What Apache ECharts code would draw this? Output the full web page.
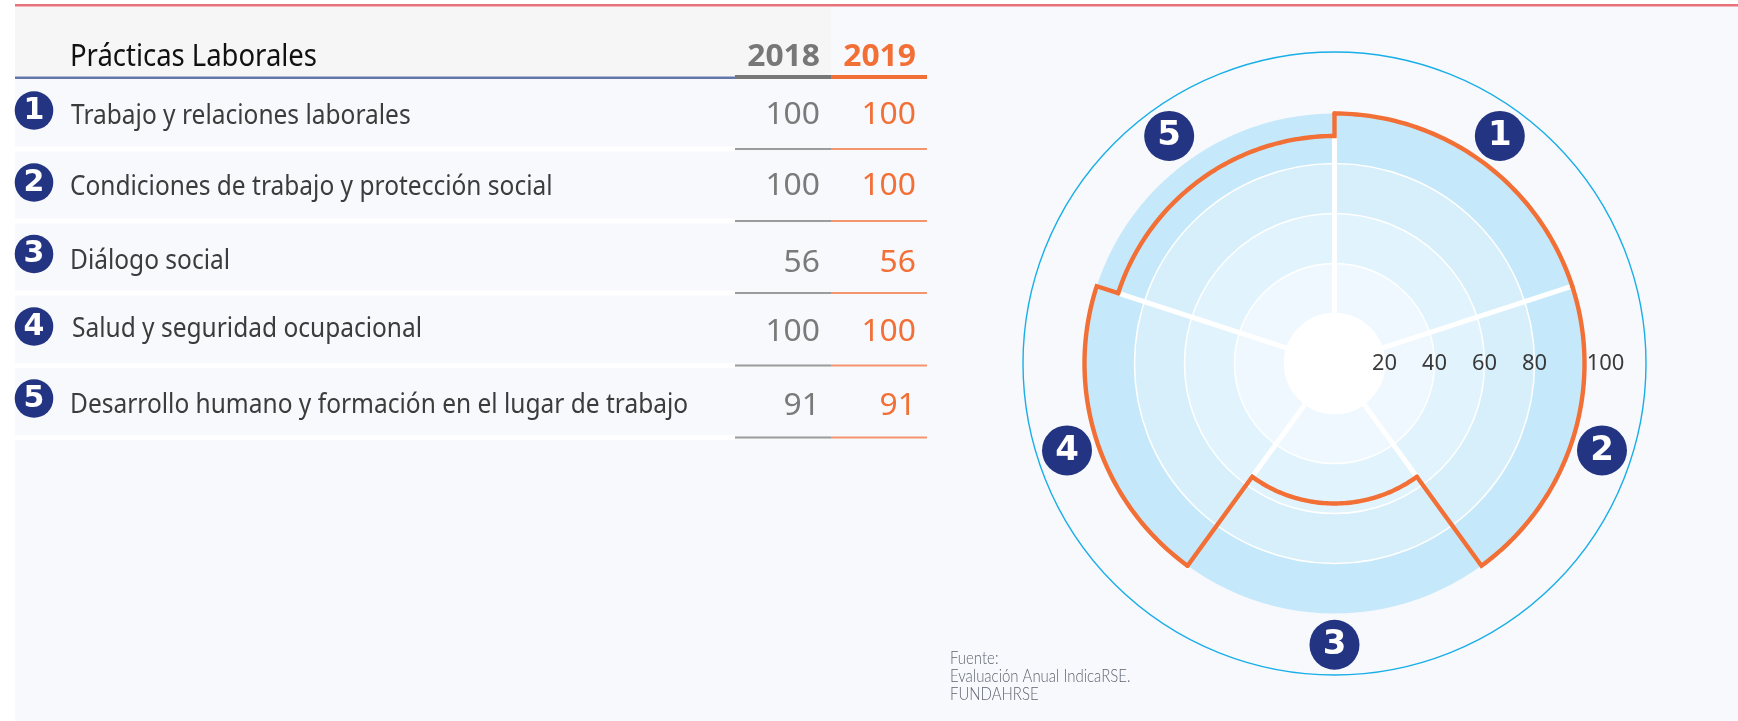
<!DOCTYPE html>
<html><head><meta charset="utf-8">
<style>html,body{margin:0;padding:0;background:#fff}#c{width:1738px;height:721px}</style>
<script src="https://cdn.jsdelivr.net/npm/echarts@6/dist/echarts.min.js"></script>
</head><body><div id="c"></div>
<script>
const tableTitle = 'Prácticas Laborales';
const years = ['2018', '2019'];
const categories = ['Trabajo y relaciones laborales','Condiciones de trabajo y protección social','Diálogo social','Salud y seguridad ocupacional','Desarrollo humano y formación en el lugar de trabajo'];
const badges = ['1','2','3','4','5'];
const values2018 = [100,100,56,100,91];
const values2019 = [100,100,56,100,91];
const ringValues = [20,40,60,80];
const sourceLines = ['Fuente:','Evaluación Anual IndicaRSE.','FUNDAHRSE'];

const FONT = '"Noto Sans"';
const rowBadgeY = [110.5,182.5,254,326.5,398.5];
const rowTextY = [116,187,261,329,405];
const rowTextX = [71,70,70,72,70];
const rowNumY = [115,186,263,332,406];
const rowRuleY = [149,221,293,365.5,437.5];
const ORANGE = '#f26f36', NAVY = '#233582';

const g = [];
const rect = (x,y,w,h,fill,z)=>g.push({type:'rect',z:z||-10,silent:true,shape:{x,y,width:w,height:h},style:{fill}});
const text = (x,y,t,o)=>g.push({type:'text',x,y,scaleX:o.sx||1,z:-5,silent:true,style:{x:0,y:0,text:t,fill:o.fill,font:(o.weight||'normal')+' '+o.size+'px '+(o.font||FONT),textAlign:o.align||'left',textVerticalAlign:'middle'}});
rect(15,5,1723,716,'#f8f9fd');
rect(15,7,816,69,'#f6f6f6');
rect(15,4,1723,2.5,'#e8737b',-9);
rect(15,76.5,720,2.5,'#6477ab',-9);
rect(735,75,96,4,'#777777',-9);
rect(831,75,96,4,ORANGE,-9);
text(70,57,tableTitle,{fill:'#111111',size:30,sx:0.915});
text(820,57,years[0],{fill:'#777777',size:30,weight:'bold',align:'right',sx:1.06});
text(916,57,years[1],{fill:ORANGE,size:30,weight:'bold',align:'right',sx:1.06});
categories.forEach((c,i)=>{
  rect(15,rowRuleY[i]-2.5,720,5,'#ffffff',-9);
  rect(735,rowRuleY[i]-1,96,2,'#9c9c9c',-8);
  rect(831,rowRuleY[i]-1,96,2,'#f5956f',-8);
  g.push({type:'circle',z:-6,silent:true,shape:{cx:34,cy:rowBadgeY[i],r:19.3},style:{fill:NAVY}});
  text(34,rowBadgeY[i]+0.5,badges[i],{fill:'#fff',size:30,weight:'bold',font:'"DejaVu Sans"',align:'center'});
  text(rowTextX[i],rowTextY[i],c,{fill:'#3c3c3c',size:28,sx:0.875});
  text(820,rowNumY[i],String(values2018[i]),{fill:'#7a7a7a',size:30,align:'right',sx:1.06});
  text(916,rowNumY[i],String(values2019[i]),{fill:ORANGE,size:30,align:'right',sx:1.06});
});
sourceLines.forEach((s,i)=>text(950,659+18*i,s,{fill:'#5f6470',size:17,font:'Lato',weight:'300',sx:0.88}));
g.push({type:'circle',z:-4,silent:true,shape:{cx:1334.5,cy:363.5,r:311.5},style:{fill:'none',stroke:'#18aee8',lineWidth:1.4}});

// angle axis runs clockwise from east so that the radius labels sit on the east side
const TOP = 270, STEP = 72;
const startAngle = i => TOP + i*STEP;
const sectorData = values2019.map((v,i)=>[v,startAngle(i)]);
const ringData = ringValues.map(v=>[v,0]);

function rings(params, api){
  const c = api.coord([0,0]), p = api.coord([api.value(0),0]);
  return {type:'circle',shape:{cx:c[0],cy:c[1],r:Math.abs(p[0]-c[0])},style:{fill:'none',stroke:'#ffffff',lineWidth:1.5}};
}
function spokes(params, api){
  const i = params.dataIndex, n = values2019.length;
  const reach = Math.min(values2019[i], values2019[(i-1+n)%n]);
  const a = startAngle(i);
  return {type:'line',shape:{x1:api.coord([20,a])[0],y1:api.coord([20,a])[1],x2:api.coord([reach,a])[0],y2:api.coord([reach,a])[1]},style:{stroke:'#fff',lineWidth:5}};
}
function outline(params, api){
  const i = params.dataIndex, n = values2019.length;
  const v = api.value(0), a = startAngle(i), next = values2019[(i+1)%n];
  const pts = [];
  for(let d=0;d<=STEP;d++) pts.push(api.coord([v,a+d]));
  pts.push(api.coord([next,a+STEP]));
  return {type:'polyline',shape:{points:pts},style:{fill:'none',stroke:ORANGE,lineWidth:4.4,lineJoin:'miter',lineCap:'round'}};
}
function badge(params, api){
  const i = params.dataIndex;
  const p = api.coord([112.5,startAngle(i)+STEP/2]);
  return {type:'group',children:[
    {type:'circle',shape:{cx:p[0],cy:p[1],r:25},style:{fill:NAVY}},
    {type:'text',x:p[0],y:p[1]+0.5,style:{text:badges[i],fill:'#fff',font:'bold 34px "DejaVu Sans"',textAlign:'center',textVerticalAlign:'middle'}}
  ]};
}

const chart = echarts.init(document.getElementById('c'),null,{renderer:'canvas'});
chart.setOption({
  animation:false,
  backgroundColor:'transparent',
  graphic:{elements:g},
  polar:{center:[1334.5,363.5],radius:[0,250]},
  angleAxis:{type:'value',min:0,max:360,startAngle:0,clockwise:true,
    axisLine:{show:false},axisTick:{show:false},axisLabel:{show:false},splitLine:{show:false}},
  radiusAxis:{type:'value',min:0,max:100,interval:20,
    axisLine:{show:false},axisTick:{show:false},
    axisLabel:{show:true,margin:0,color:'#3a3a3a',fontFamily:FONT,fontSize:22,verticalAlign:'middle',align:'center',padding:[4,0,0,0],
      showMinLabel:false,showMaxLabel:true,hideOverlap:false,alignMaxLabel:'left',
      formatter:v=>v===100?'\u200a100':String(v)},
    splitLine:{show:false},
    splitArea:{show:true,areaStyle:{color:['#ffffff','#eff8fe','#e1f4fd','#d6effb','#c5e9fa'],opacity:1}}},
  series:[
    {type:'custom',name:'rings',coordinateSystem:'polar',z:1,silent:true,data:ringData,renderItem:rings},
    {type:'custom',name:'spokes',coordinateSystem:'polar',z:3,silent:true,data:sectorData,renderItem:spokes},
    {type:'custom',name:years[1],coordinateSystem:'polar',z:4,silent:true,data:sectorData,renderItem:outline},
    {type:'custom',name:'badges',coordinateSystem:'polar',z:6,silent:true,data:sectorData,renderItem:badge}
  ]
});
</script></body></html>
